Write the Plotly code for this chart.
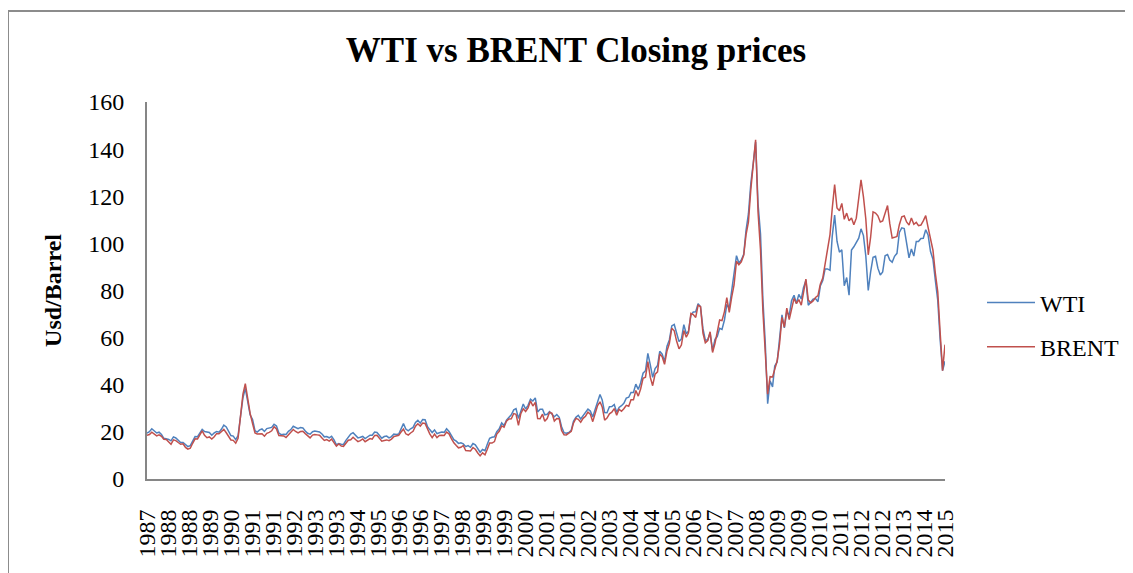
import pandas as pd
import plotly.graph_objects as go

# monthly closing prices, May 1987 .. Feb 2015
wti = [
    19.44, 20.07, 21.34, 20.31, 19.53, 19.86, 18.85, 17.28,
    17.13, 16.80, 16.20, 17.86, 17.42, 16.53, 15.50, 15.52, 14.54, 13.77, 14.14, 16.38,
    18.02, 17.94, 19.48, 21.07, 20.12, 20.05, 19.78, 18.58, 19.59, 20.10, 19.86, 21.10,
    22.86, 22.11, 20.39, 18.43, 18.20, 16.70, 18.45, 27.31, 34.50, 38.50, 32.33, 27.28,
    25.23, 20.48, 19.90, 20.83, 21.23, 20.19, 21.40, 21.69, 21.89, 23.23, 22.46, 19.50,
    18.79, 19.01, 18.92, 20.23, 20.98, 22.39, 21.78, 21.34, 21.88, 21.69, 20.34, 19.41,
    19.03, 20.09, 20.32, 20.25, 19.95, 19.09, 17.89, 18.01, 17.50, 18.15, 16.61, 14.52,
    15.03, 14.78, 14.68, 16.42, 17.89, 19.06, 19.66, 18.38, 17.45, 17.72, 18.07, 17.16,
    18.04, 18.57, 18.54, 19.90, 19.74, 18.45, 17.33, 18.02, 18.23, 17.43, 17.99, 19.03,
    18.86, 19.09, 21.33, 23.50, 21.17, 20.42, 21.30, 21.90, 23.97, 24.88, 23.71, 25.23,
    25.13, 22.18, 20.97, 19.70, 20.82, 19.26, 19.66, 19.95, 19.80, 21.33, 20.19, 18.33,
    16.72, 16.06, 15.12, 15.35, 14.91, 13.72, 14.17, 13.47, 15.03, 14.46, 13.00, 11.35,
    12.52, 12.01, 14.68, 17.31, 17.72, 17.92, 20.10, 21.28, 23.80, 22.69, 25.00, 26.10,
    27.26, 29.37, 29.84, 25.72, 28.79, 31.82, 29.70, 31.26, 33.88, 33.11, 34.42, 28.44,
    29.59, 29.61, 27.25, 27.49, 28.63, 27.60, 26.43, 27.37, 26.20, 22.17, 19.64, 19.39,
    19.72, 20.72, 24.53, 26.18, 27.04, 25.52, 26.97, 28.39, 29.66, 28.84, 26.35, 29.46,
    32.95, 35.83, 33.51, 28.17, 28.11, 30.66, 30.76, 31.57, 28.31, 30.34, 31.11, 32.13,
    34.31, 34.69, 36.74, 36.75, 40.28, 38.03, 40.78, 44.90, 45.94, 53.28, 48.47, 43.15,
    46.84, 48.15, 54.19, 52.98, 49.83, 56.35, 59.00, 64.99, 65.59, 62.26, 58.32, 59.41,
    65.49, 61.63, 62.69, 69.44, 70.84, 70.95, 74.41, 73.04, 63.80, 58.89, 59.08, 61.96,
    54.51, 59.28, 60.44, 63.98, 63.46, 67.49, 74.12, 72.36, 79.92, 85.80, 94.77, 91.69,
    92.97, 95.39, 105.45, 112.58, 125.40, 134.00, 143.00, 116.67, 104.11, 76.61, 57.31, 32.00,
    41.71, 39.09, 47.94, 49.65, 59.03, 69.64, 64.15, 71.05, 69.41, 75.72, 77.99, 74.47,
    78.33, 76.39, 81.20, 84.29, 73.74, 75.34, 76.32, 76.60, 75.24, 81.89, 84.25, 89.15,
    89.17, 88.58, 102.86, 112.00, 100.90, 96.26, 97.30, 82.00, 85.50, 78.00, 97.16, 98.56,
    100.27, 102.20, 106.16, 103.32, 94.66, 80.00, 87.90, 94.13, 94.51, 89.49, 86.53, 87.86,
    94.76, 95.31, 92.94, 92.02, 94.51, 95.77, 104.67, 106.57, 106.29, 100.54, 93.86, 97.63,
    94.62, 100.82, 100.80, 102.07, 102.18, 105.79, 103.59, 96.54, 93.21, 84.40, 75.79, 59.29,
    46.00, 50.00,
]

brent = [
    18.58, 18.86, 19.86, 18.98, 18.31, 18.76, 18.10, 16.84,
    16.74, 15.73, 14.73, 16.60, 16.31, 15.49, 14.75, 14.92, 13.38, 12.68, 13.04, 15.16,
    17.06, 16.98, 18.54, 20.41, 18.56, 17.53, 17.85, 16.95, 17.92, 19.24, 19.17, 20.26,
    21.07, 19.62, 18.39, 16.55, 16.41, 15.22, 17.27, 27.12, 36.00, 40.50, 32.99, 27.82,
    23.56, 19.54, 19.08, 19.18, 19.19, 18.17, 19.40, 19.76, 20.44, 22.16, 21.22, 18.43,
    18.23, 18.27, 17.61, 18.78, 19.67, 21.03, 20.18, 19.60, 20.17, 20.28, 19.27, 18.30,
    17.45, 18.63, 18.91, 18.73, 18.55, 17.37, 16.37, 16.71, 16.09, 16.91, 15.45, 13.93,
    14.85, 14.02, 13.87, 15.16, 16.43, 16.67, 17.71, 16.75, 15.87, 16.28, 17.00, 15.84,
    16.57, 17.18, 16.90, 18.50, 18.58, 17.51, 16.05, 16.33, 16.59, 16.25, 16.94, 17.99,
    18.15, 18.53, 19.92, 21.15, 19.18, 18.66, 19.53, 20.24, 22.38, 23.46, 22.47, 23.73,
    23.54, 20.85, 19.13, 17.56, 19.02, 17.58, 18.46, 18.60, 18.46, 19.88, 19.17, 17.15,
    15.34, 14.20, 13.22, 13.47, 14.21, 12.08, 12.06, 11.91, 13.34, 12.62, 11.04, 9.82,
    11.12, 10.27, 12.51, 15.29, 15.23, 15.86, 19.08, 20.27, 22.52, 22.00, 24.58, 25.47,
    25.51, 27.78, 27.49, 22.76, 27.74, 29.80, 28.68, 30.20, 33.14, 30.96, 32.55, 25.66,
    25.62, 27.50, 24.50, 25.66, 28.31, 27.85, 24.61, 25.68, 25.62, 20.54, 18.80, 18.71,
    19.42, 20.28, 23.70, 25.73, 25.35, 24.08, 25.74, 26.65, 28.40, 27.54, 24.34, 28.33,
    31.18, 32.77, 30.61, 25.00, 25.86, 27.65, 28.35, 29.89, 27.11, 29.61, 28.75, 29.81,
    31.28, 30.86, 33.63, 33.59, 37.57, 35.18, 38.22, 42.74, 43.20, 49.78, 43.11, 39.60,
    44.51, 45.48, 53.10, 51.88, 48.65, 54.35, 57.52, 63.98, 62.91, 58.54, 55.24, 56.86,
    62.99, 60.21, 62.06, 70.26, 69.78, 68.56, 73.67, 73.23, 61.96, 57.81, 58.76, 62.47,
    53.68, 57.56, 62.05, 67.49, 67.21, 71.05, 76.93, 70.76, 77.17, 82.34, 92.41, 90.93,
    92.18, 94.99, 103.64, 109.07, 122.80, 133.00, 144.00, 113.24, 97.23, 71.58, 52.45, 36.00,
    43.44, 43.32, 46.54, 50.18, 57.30, 68.61, 64.44, 72.51, 67.65, 72.77, 76.66, 74.46,
    76.17, 73.75, 78.83, 84.82, 75.95, 74.76, 75.58, 77.04, 77.84, 82.67, 85.28, 91.45,
    96.52, 103.72, 114.64, 125.00, 114.99, 113.83, 116.97, 110.22, 112.83, 109.55, 110.77, 107.87,
    110.69, 119.33, 127.00, 119.75, 110.34, 95.16, 102.62, 113.36, 112.86, 111.71, 109.06, 109.49,
    112.96, 116.05, 108.47, 102.25, 102.56, 102.92, 107.93, 111.28, 111.60, 109.08, 107.79, 110.76,
    108.12, 108.90, 107.48, 107.76, 109.54, 111.80, 106.77, 101.61, 97.09, 87.43, 79.44, 62.34,
    46.00, 57.00,
]

tick_labels = [
    "1987", "1988", "1988", "1989", "1990", "1991", "1991", "1992", "1993", "1993",
    "1994", "1995", "1996", "1996", "1997", "1998", "1999", "1999", "2000", "2001",
    "2001", "2002", "2003", "2004", "2004", "2005", "2006", "2007", "2007", "2008",
    "2009", "2009", "2010", "2011", "2012", "2012", "2013", "2014", "2015",
]

dates = pd.date_range("1987-05-01", periods=len(wti), freq="MS") + pd.Timedelta(days=14)
tick_pos = pd.date_range(dates[0], dates[-1], periods=len(tick_labels))

FONT = "Liberation Serif, Times New Roman, serif"
OFF = 8  # page body margin
W, H = 1133, 573
# plot area in page pixels: x 147..945, y 102..479
L, R = 147 - OFF, W - (945 - OFF)
T, B = 102 - OFF, H - (479 - OFF)
pw, ph = W - L - R, H - T - B


def px_x(p):
    return (p - OFF - L) / pw


def px_y(p):
    return (H - B - (p - OFF)) / ph


fig = go.Figure()
fig.add_trace(go.Scatter(x=dates, y=wti, mode="lines", name="WTI", legendgroup="a",
                         line=dict(color="#4F81BD", width=1.5)))
fig.add_trace(go.Scatter(x=dates, y=brent, mode="lines", name="BRENT", legendgroup="b",
                         line=dict(color="#C0504D", width=1.5)))

fig.update_layout(
    width=W, height=H,
    margin=dict(l=L, r=R, t=T, b=B),
    paper_bgcolor="white", plot_bgcolor="white",
    font=dict(family=FONT, size=24, color="black"),
    title=dict(text="<b>WTI vs BRENT Closing prices</b>", x=px_x(576), xanchor="center",
               xref="paper", y=1 - (50 - OFF) / H, yanchor="middle",
               font=dict(family=FONT, size=35, color="black")),
    showlegend=True,
    legend=dict(x=px_x(982), y=px_y(325), xanchor="left", yanchor="middle",
                font=dict(family=FONT, size=24, color="black"),
                itemwidth=48, tracegroupgap=10, bgcolor="rgba(0,0,0,0)"),
    xaxis=dict(
        type="date", range=[dates[0], dates[-1]],
        tickmode="array", tickvals=tick_pos, ticktext=tick_labels, tickangle=-90,
        showgrid=False, zeroline=False, showline=True, linecolor="#868686", linewidth=2,
        ticks="", ticklabelstandoff=19,
        tickfont=dict(family=FONT, size=24, color="black"),
    ),
    yaxis=dict(
        range=[0, 160], dtick=20, tick0=0,
        showgrid=False, zeroline=False, showline=True, linecolor="#868686", linewidth=2,
        ticks="", ticklabelstandoff=16,
        tickfont=dict(family=FONT, size=24, color="black"),
        title=dict(text="<b>Usd/Barrel</b>", standoff=20,
                   font=dict(family=FONT, size=24, color="black")),
    ),
    shapes=[
        dict(type="line", xref="paper", yref="paper", x0=px_x(8), x1=px_x(W + 20),
             y0=px_y(11), y1=px_y(11), line=dict(color="#8c8c8c", width=2)),
        dict(type="line", xref="paper", yref="paper", x0=px_x(8), x1=px_x(8),
             y0=px_y(11), y1=px_y(H + 20), line=dict(color="#8c8c8c", width=2)),
    ],
)

fig.write_html("out.html")
